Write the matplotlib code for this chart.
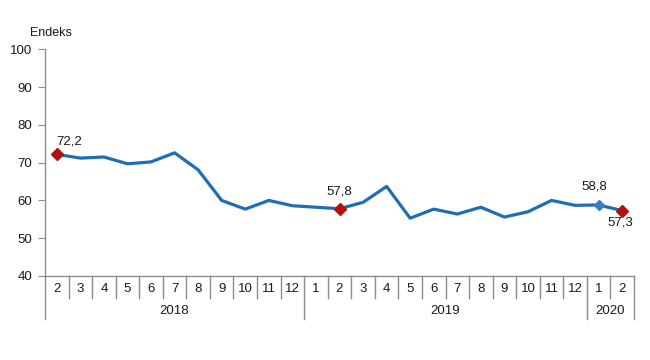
import matplotlib
matplotlib.use("Agg")
import matplotlib.pyplot as plt
import matplotlib.transforms as mtransforms

plt.rcParams['font.family'] = ['Liberation Sans', 'DejaVu Sans']

# monthly index, 2018-02 .. 2020-02
months = ['2', '3', '4', '5', '6', '7', '8', '9', '10', '11', '12',
          '1', '2', '3', '4', '5', '6', '7', '8', '9', '10', '11', '12',
          '1', '2']
values = [72.2, 71.2, 71.5, 69.7, 70.2, 72.6, 68.1, 60.0, 57.7, 60.0, 58.6,
          58.2, 57.8, 59.5, 63.7, 55.3, 57.7, 56.4, 58.2, 55.6, 57.0, 60.0, 58.7,
          58.8, 57.3]
years = ['2018', '2019', '2020']
year_start = [0, 11, 23]   # index of first month of each year
red_pts = [0, 12, 24]
blue_pts = [23]
labels = {0: '72,2', 12: '57,8', 23: '58,8', 24: '57,3'}

LINE = '#1f6db4'
RED = '#b50f0f'
GRAY = '#8c8c8c'
FS = 9.5

fig = plt.figure(figsize=(6.5, 3.6), dpi=100)
W, H = 650, 360
x0, x1, ytop, ybot = 45, 634, 49.3, 276
ax = fig.add_axes([x0 / W, 1 - ybot / H, (x1 - x0) / W, (ybot - ytop) / H])

x = list(range(len(values)))
ax.plot(x, values, color=LINE, lw=2.3, zorder=3)
ax.plot([x[i] for i in red_pts], [values[i] for i in red_pts], 'D',
        color=RED, ms=6, zorder=4)
ax.plot([x[i] for i in blue_pts], [values[i] for i in blue_pts], 'D',
        color='#3a7cc4', ms=5, zorder=4)

offsets = {0: (0, 13, 'left'), 12: (0, 17, 'center'), 23: (-4, 18, 'center'),
           24: (-2, -12, 'center')}
for i, txt in labels.items():
    dx, dy, ha = offsets[i]
    ax.annotate(txt, (x[i], values[i]), xytext=(dx, dy), textcoords='offset pixels',
                ha=ha, va='center', fontsize=FS, color='#1a1a1a')

ax.set_xlim(-0.5, len(values) - 0.5)
ax.set_ylim(40, 100)
ax.set_yticks(range(40, 101, 10))
ax.tick_params(axis='y', length=5, color=GRAY, labelsize=FS, labelcolor='#1a1a1a', pad=4)
ax.set_xticks([])
for s in ['top', 'right']:
    ax.spines[s].set_visible(False)
for s in ['left', 'bottom']:
    ax.spines[s].set_color(GRAY)
    ax.spines[s].set_linewidth(1)

# category table under the axis
axh = ybot - ytop
month_low = -22 / axh
year_low = -43 / axh
trans = mtransforms.blended_transform_factory(ax.transData, ax.transAxes)
n = len(values)
for i in range(1, n):
    low = year_low if i in year_start else month_low
    ax.plot([i - 0.5, i - 0.5], [0, low], color=GRAY, lw=1, transform=trans, clip_on=False)
for xe in [-0.5, n - 0.5]:
    ax.plot([xe, xe], [0, year_low], color=GRAY, lw=1, transform=trans, clip_on=False)

for i, m in enumerate(months):
    ax.text(i, -13 / axh, m, transform=trans, ha='center', va='center',
            fontsize=FS, color='#1a1a1a')
bounds = year_start + [n]
for k, yr in enumerate(years):
    cx = (bounds[k] + bounds[k + 1] - 1) / 2
    ax.text(cx, -35 / axh, yr, transform=trans, ha='center', va='center',
            fontsize=FS, color='#1a1a1a')

fig.text(30 / W, 1 - 33 / H, 'Endeks', ha='left', va='center', fontsize=FS - 0.5, color='#1a1a1a')

fig.savefig('out.png', dpi=100, facecolor='white')
